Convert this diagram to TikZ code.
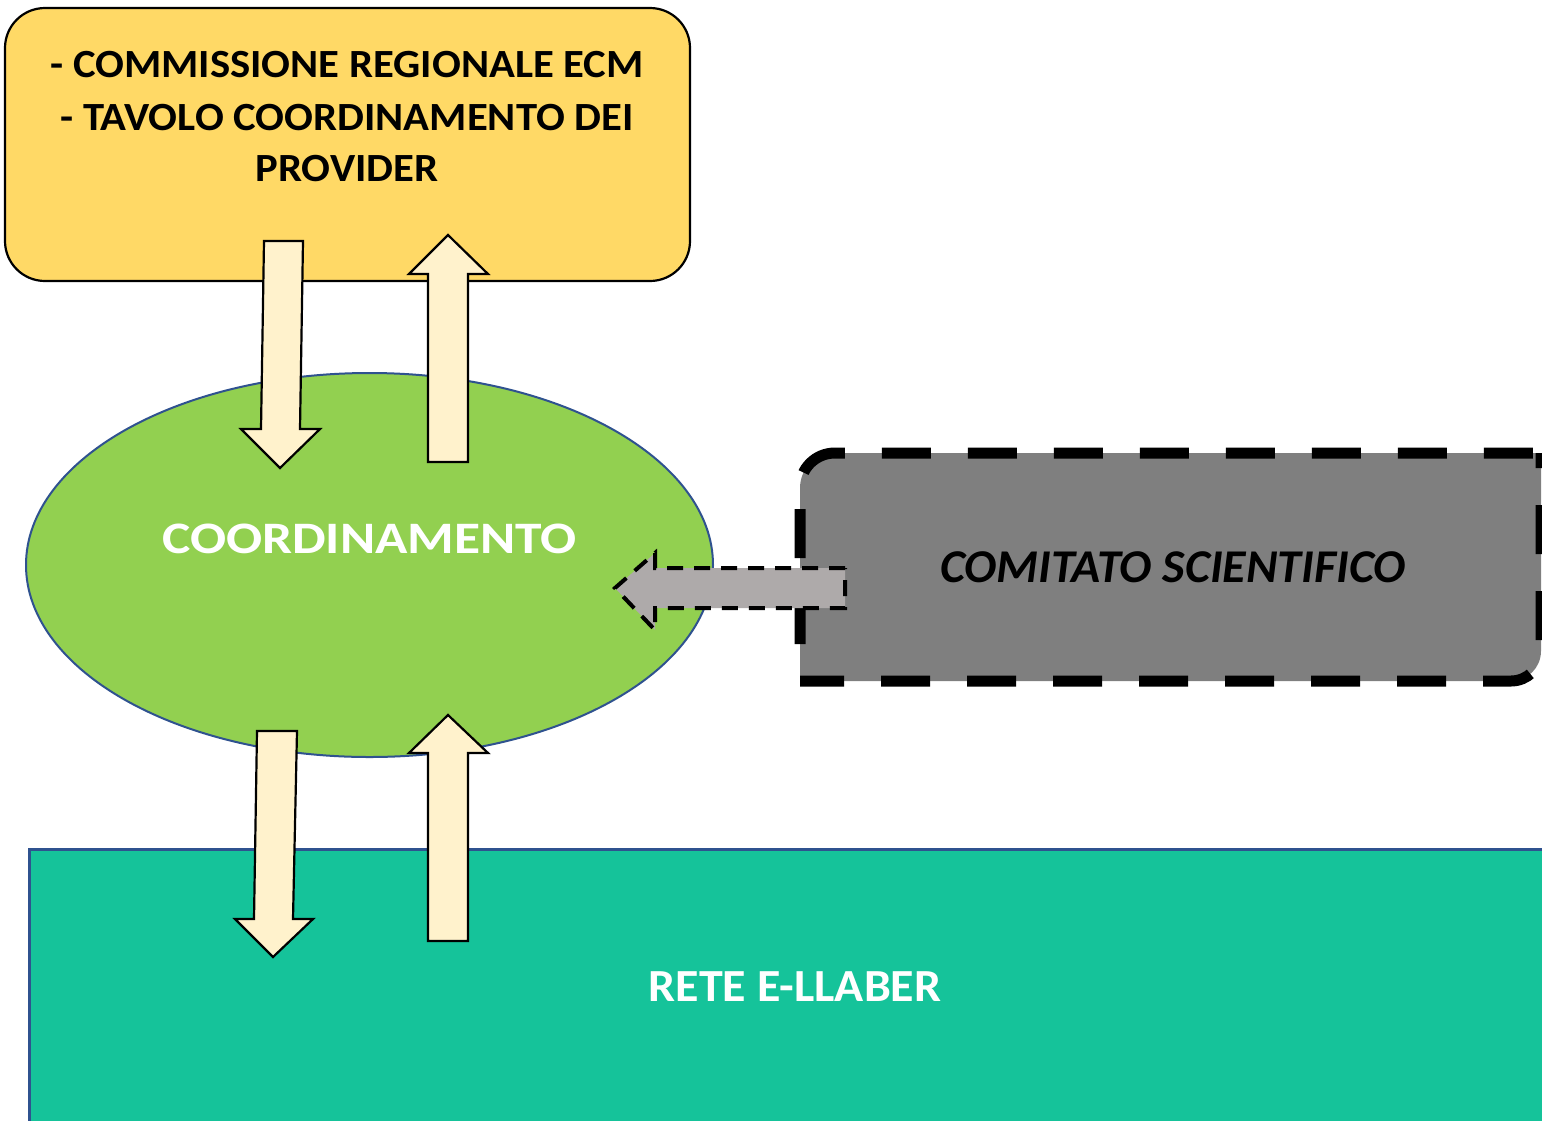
\documentclass[tikz,border=0pt]{standalone}
\usepackage{fontspec}
\setmainfont{Carlito}
\definecolor{boxyellow}{HTML}{FFD966}
\definecolor{ellgreen}{HTML}{92D050}
\definecolor{edgeblue}{HTML}{2F528F}
\definecolor{boxgray}{HTML}{7F7F7F}
\definecolor{arrgray}{HTML}{AEAAAA}
\definecolor{reteteal}{HTML}{15C39A}
\definecolor{arrcream}{HTML}{FFF2CC}
\begin{document}
\begin{tikzpicture}[x=1pt,y=-1pt,
  blockarrow/.style={draw=black,fill=arrcream,line width=2.2pt,line join=miter},
  dasharrow/.style={draw=black,fill=arrgray,line width=4pt,dash pattern=on 16pt off 11pt},
  grayborder/.style={draw=black,line width=11pt,dash pattern=on 49pt off 37pt},
  ytext/.style={anchor=base,inner sep=0pt,font=\fontsize{40}{48}\selectfont\bfseries},
  wtext/.style={anchor=base,inner sep=0pt,text=white,font=\fontsize{46}{55}\selectfont\bfseries}]
\useasboundingbox (0,0) rectangle (1542,1120);
% yellow box
\node[draw=black,fill=boxyellow,line width=2.2pt,rounded corners=40pt,
  minimum width=685pt,minimum height=273pt,inner sep=0pt] (cmm) at (347.5,144.5) {};
\node[ytext] (t1) at (347,77.7) {\scalebox{1.067}[1]{- COMMISSIONE REGIONALE ECM}};
\node[ytext] (t2) at (347,130) {\scalebox{1.067}[1]{- TAVOLO COORDINAMENTO DEI}};
\node[ytext] (t3) at (347,181.7) {\scalebox{1.067}[1]{PROVIDER}};
% ellipse
\draw[draw=edgeblue,fill=ellgreen,line width=2pt] (369.5,565) ellipse [x radius=343.5,y radius=192];
\coordinate (coord) at (369.5,565);
\node[wtext,font=\fontsize{45}{54}\selectfont\bfseries] (tc) at (369.5,553.3) {\scalebox{1.187}[1]{COORDINAMENTO}};
% teal rectangle
\draw[draw=edgeblue,fill=reteteal,line width=3pt] (29,849) rectangle (1560,1140);
\coordinate (rete) at (795,985);
\node[wtext] (tr) at (795,1001) {\scalebox{1.043}[1]{RETE E-LLABER}};
% gray dashed box
\fill[boxgray]
  (800,681) -- (800,488) .. controls (800,468.7) and (815.3,453) .. (835,453)
  -- (1541,453) -- (1541,651) .. controls (1541,667.6) and (1527.6,681) .. (1511,681)
  -- cycle;
\draw[grayborder,dash phase=49pt]
  (800,681) -- (800,488) .. controls (800,468.7) and (815.3,453) .. (835,453) -- (1541,453);
\draw[grayborder,dash phase=5pt]
  (800,681) -- (1511,681) .. controls (1527.6,681) and (1541,667.6) .. (1541,651) -- (1541,453);
\coordinate (comit) at (1173,567);
\node[anchor=base,inner sep=0pt,font=\fontsize{47}{56}\selectfont\bfseries\itshape] (ts) at (1173,582.7) {\scalebox{1.022}[1]{COMITATO SCIENTIFICO}};
% dashed arrow from comitato to coordinamento
\draw[dasharrow] (845,568) -- (655,568) -- (655,553) -- (615,588) -- (655,630) -- (655,608) -- (845,608) -- cycle;
% block arrows top
\draw[blockarrow] (264,241) -- (303,241) -- (300,429) -- (320,429) -- (280,468) -- (241,429) -- (261,429) -- cycle;
\draw[blockarrow] (428,462) -- (428,274) -- (409,274) -- (448,235) -- (488,274) -- (468,274) -- (468,462) -- cycle;
% block arrows bottom
\draw[blockarrow] (257,731) -- (297,731) -- (293,919) -- (313,919) -- (273,957) -- (235,919) -- (254,919) -- cycle;
\draw[blockarrow] (428,941) -- (428,753) -- (409,753) -- (448,715) -- (488,753) -- (468,753) -- (468,941) -- cycle;
\end{tikzpicture}
\end{document}
